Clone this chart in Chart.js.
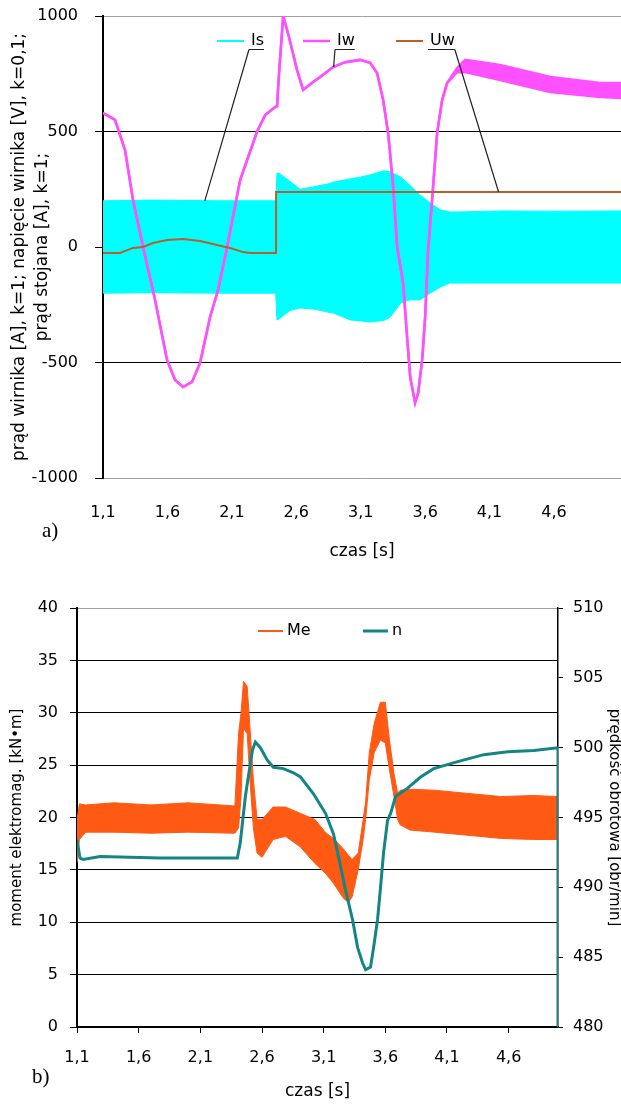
<!DOCTYPE html>
<html>
<head>
<meta charset="utf-8">
<script src="https://cdn.jsdelivr.net/npm/chart.js@4/dist/chart.umd.min.js"></script>
<style>
  html, body { margin:0; padding:0; background:#fff; width:621px; height:1104px; overflow:hidden; }
  canvas { position:absolute; left:0; }
  #c1 { top:0; }
  #c2 { top:560px; }
  .tag { position:absolute; font:21px "Liberation Serif", serif; color:#000; line-height:24px; }
</style>
</head>
<body>
<canvas id="c1" width="621" height="565"></canvas>
<canvas id="c2" width="621" height="544"></canvas>
<div class="tag" style="left:42px;top:518px">a)</div>
<div class="tag" style="left:32px;top:1064px">b)</div>
<script>
'use strict';
Chart.defaults.font.family = '"DejaVu Sans", sans-serif';
Chart.defaults.font.size = 16;
Chart.defaults.color = '#000';

/* ── axis ticks ────────────────────────────── */
const timeTicks    = [1.1, 1.6, 2.1, 2.6, 3.1, 3.6, 4.1, 4.6];
const timeLabels   = ['1,1','1,6','2,1','2,6','3,1','3,6','4,1','4,6'];
const currentTicks = [-1000, -500, 0, 500, 1000];
const torqueTicks  = [0, 5, 10, 15, 20, 25, 30, 35, 40];
const speedTicks   = [480, 485, 490, 495, 500, 505, 510];

/* ── a) Is envelope (stator current) ───────── */
const tIs  = [1.10, 1.50, 2.00, 2.44, 2.45, 2.47, 2.55, 2.63, 2.75, 2.86, 2.89, 3.02, 3.10, 3.17, 3.28, 3.33, 3.41, 3.48, 3.56, 3.64, 3.72, 3.79, 3.87, 4.20, 4.60, 5.12];
const isHi = [200, 203, 200, 200, 320, 318, 285, 250, 262, 275, 281, 295, 303, 312, 330, 325, 303, 268, 225, 190, 160, 152, 152, 156, 155, 156];
const isLo = [-200, -198, -200, -200, -316, -310, -275, -264, -270, -284, -286, -316, -320, -325, -318, -303, -242, -229, -229, -199, -173, -156, -156, -156, -156, -156];

/* ── a) Iw (rotor current) ─────────────────── */
const tIw  = [1.100, 1.154, 1.193, 1.271, 1.333, 1.411, 1.504, 1.597, 1.659, 1.721,
              1.791, 1.853, 1.931, 1.993, 2.063, 2.164, 2.296, 2.358, 2.435, 2.451,
              2.466, 2.498, 2.536, 2.606, 2.653, 2.730, 2.785, 2.886, 2.979, 3.095,
              3.173, 3.227, 3.274, 3.313, 3.352, 3.383, 3.429, 3.460, 3.484, 3.522,
              3.546, 3.577, 3.600, 3.623, 3.654, 3.693, 3.732, 3.771, 3.848, 3.911,
              4.182, 4.571, 4.959, 5.122];
const iwHi = [580, 563, 550, 420, 203, 0, -229, -489, -576, -606,
              -584, -502, -303, -186, 0, 290, 500, 571, 606, 610,
              750, 1000, 925, 766, 680, 714, 736, 779, 800, 810,
              797, 753, 636, 493, 260, 0, -156, -390, -563, -675,
              -632, -489, -303, -13, 203, 493, 636, 710, 775, 810,
              788, 736, 710, 710];
const iwLo = [580, 563, 550, 420, 203, 0, -229, -489, -576, -606,
              -584, -502, -303, -186, 0, 290, 500, 571, 606, 610,
              750, 1000, 925, 766, 680, 714, 736, 779, 800, 810,
              797, 753, 636, 493, 260, 0, -156, -390, -563, -675,
              -632, -489, -303, -13, 203, 493, 636, 710, 757, 757,
              723, 671, 649, 645];

/* ── a) Uw (rotor voltage, k=0,1) ──────────── */
const tUw = [1.100, 1.232, 1.333, 1.411, 1.488, 1.597, 1.721, 1.853, 1.985, 2.086, 2.187, 2.241, 2.443, 2.443, 5.122];
const uw  = [-26, -26, -4, 0, 17, 30, 35, 26, 9, -4, -22, -26, -26, 238, 238];

// where the legend leader lines point (time, value)
const noteIs = [1.89, 200], noteIw = [2.89, 779], noteUw = [4.17, 238];

/* ── b) Me envelope (torque) ───────────────── */
const tMe  = [1.10, 1.12, 1.17, 1.40, 1.70, 2.00, 2.38, 2.41, 2.43, 2.45, 2.48, 2.50, 2.53, 2.56, 2.60, 2.69, 2.79, 2.91, 3.03, 3.12,
              3.18, 3.26, 3.30, 3.33, 3.38, 3.42, 3.44, 3.47, 3.51, 3.56, 3.60, 3.63, 3.67, 3.70, 3.72, 3.80, 4.00, 4.27, 4.54, 4.80, 5.00];
const meHi = [19.8, 21.3, 21.2, 21.4, 21.2, 21.4, 21.1, 28.0, 30.0, 33.0, 32.5, 29.0, 23.6, 19.8, 19.8, 21.0, 21.0, 20.4, 19.8, 18.5,
              18.0, 17.0, 16.4, 16.0, 16.6, 19.8, 21.5, 26.2, 29.0, 31.0, 31.0, 27.7, 24.2, 22.3, 22.6, 22.7, 22.6, 22.3, 22.0, 22.1, 22.0];
const meLo = [15.7, 17.9, 18.6, 18.6, 18.5, 18.6, 18.5, 19.0, 22.0, 28.5, 28.0, 24.0, 19.0, 16.6, 16.2, 17.9, 18.2, 17.2, 15.6, 14.6,
              13.7, 12.3, 11.9, 12.4, 15.0, 17.9, 19.8, 23.6, 26.2, 27.4, 27.1, 24.8, 22.0, 19.8, 19.3, 18.8, 18.6, 18.3, 18.0, 17.9, 17.9];

/* ── b) n (speed) ──────────────────────────── */
const tN    = [1.100, 1.124, 1.149, 1.287, 1.774, 2.400, 2.424, 2.440, 2.465, 2.489, 2.522, 2.546, 2.587, 2.643, 2.692,
               2.773, 2.855, 2.912, 3.017, 3.115, 3.180, 3.220, 3.277, 3.334, 3.375, 3.415, 3.440, 3.480, 3.505, 3.537,
               3.561, 3.586, 3.618, 3.643, 3.683, 3.781, 3.886, 3.992, 4.187, 4.398, 4.593, 4.804, 5.000, 5.000];
const speed = [493.4, 492.1, 492.0, 492.2, 492.1, 492.1, 493.2, 494.5, 496.5, 497.9, 499.8, 500.4, 500.0, 499.1, 498.6,
               498.5, 498.2, 497.9, 496.7, 495.3, 493.8, 492.2, 489.8, 487.7, 485.7, 484.6, 484.1, 484.3, 485.7, 487.7,
               490.0, 492.5, 494.8, 495.3, 496.5, 497.1, 497.9, 498.5, 499.0, 499.5, 499.7, 499.8, 500.0, 480.0];

/* ── helpers ───────────────────────────────── */
const pts = (xs, ys) => xs.map((x, i) => ({ x, y: ys[i] }));
const fixTicks = list => s => { s.ticks = list.map(v => ({ value: v })); };
const plain = v => String(v);
// pin the axis box width and drop the label overhang padding
const pinWidth = w => s => { s.width = w; s.paddingTop = 0; s.paddingBottom = 0; };

// legend drawn inside the plot, with optional leader lines
const keyPlugin = {
  id: 'key',
  afterDatasetsDraw(chart, args, o) {
    if (!o || !o.items) return;
    const ctx = chart.ctx;
    ctx.save();
    ctx.font = '16px "DejaVu Sans"';
    ctx.textBaseline = 'middle';
    o.items.forEach(it => {
      const ds = chart.data.datasets[it.ds];
      ctx.strokeStyle = ds.borderColor; ctx.lineWidth = it.lw;
      ctx.beginPath(); ctx.moveTo(it.x, o.y); ctx.lineTo(it.x + o.len, o.y); ctx.stroke();
      const tx = it.x + o.len + o.gap;
      ctx.fillStyle = '#000';
      ctx.fillText(ds.label, tx, o.y);
      if (it.note) {
        const w = ctx.measureText(ds.label).width;
        const ly = o.y + 8.5;
        const sx = it.from === 'right' ? tx + w : tx - 2;
        const px = chart.scales.x.getPixelForValue(it.note[0]);
        const py = chart.scales.y.getPixelForValue(it.note[1]);
        ctx.strokeStyle = '#222'; ctx.lineWidth = 1.2;
        ctx.beginPath();
        ctx.moveTo(tx - 2, ly); ctx.lineTo(tx + w, ly);
        ctx.moveTo(sx, ly); ctx.lineTo(px, py);
        ctx.stroke();
      }
    });
    ctx.restore();
  }
};

const base = {
  responsive: false, animation: false, events: [],
  elements: { point: { radius: 0 }, line: { tension: 0 } },
};

/* ── CHART a) ──────────────────────────────── */
new Chart(document.getElementById('c1'), {
  type: 'line',
  data: { datasets: [
    { label: 'Uw', data: pts(tUw, uw),   borderColor: '#b8602a', borderWidth: 2 },
    { label: 'Iw', data: pts(tIw, iwHi), borderColor: '#ff50ff', backgroundColor: '#ff50ff', borderWidth: 2.5, fill: '+1' },
    { label: '',   data: pts(tIw, iwLo), borderColor: '#ff50ff', borderWidth: 2.5 },
    { label: 'Is', data: pts(tIs, isHi), borderColor: '#00ffff', backgroundColor: '#00ffff', borderWidth: 1, fill: '+1' },
    { label: '',   data: pts(tIs, isLo), borderColor: '#00ffff', borderWidth: 1 },
  ]},
  options: {
    ...base,
    layout: { padding: { top: 16, left: 0, right: 0, bottom: 0 } },
    plugins: {
      legend: { display: false }, tooltip: { enabled: false },
      key: { y: 41, len: 27, gap: 7, items: [
        { ds: 3, x: 217, lw: 2,   note: noteIs, from: 'left' },
        { ds: 1, x: 303, lw: 2.5, note: noteIw, from: 'left' },
        { ds: 0, x: 396, lw: 2,   note: noteUw, from: 'right' },
      ]},
    },
    scales: {
      x: {
        type: 'linear', min: 1.1, max: 5.12,
        afterBuildTicks: fixTicks(timeTicks),
        afterFit: s => { s.height = 87; },
        grid: { display: false, drawTicks: false },
        border: { color: '#a0a0a0', width: 1 },
        ticks: { padding: 25, maxRotation: 0, autoSkip: false, callback: (v, i) => timeLabels[i] },
        title: { display: true, text: 'czas [s]', font: { size: 17 }, padding: { top: 0, bottom: 3 } },
      },
      y: {
        min: -1000, max: 1000,
        afterBuildTicks: fixTicks(currentTicks),
        afterFit: pinWidth(103),
        grid: { color: c => (c.tick && Math.abs(c.tick.value) === 1000) ? '#a0a0a0' : '#000', tickColor: '#000', tickLength: 8 },
        border: { color: '#000', width: 2 },
        ticks: { padding: 17, callback: plain },
        title: { display: true,
          text: ['prąd wirnika [A], k=1; napięcie wirnika [V], k=0,1;', 'prąd stojana [A], k=1;'],
          font: { size: 17, lineHeight: '23px' }, padding: { top: 8, bottom: 0 } },
      },
    },
  },
  plugins: [keyPlugin],
});

/* ── CHART b) ──────────────────────────────── */
new Chart(document.getElementById('c2'), {
  type: 'line',
  data: { datasets: [
    { label: 'n',  yAxisID: 'y2', data: pts(tN, speed), borderColor: '#138585', borderWidth: 3 },
    { label: 'Me', yAxisID: 'y',  data: pts(tMe, meHi), borderColor: '#ff5a14', backgroundColor: '#ff5a14', borderWidth: 1, fill: '+1' },
    { label: '',   yAxisID: 'y',  data: pts(tMe, meLo), borderColor: '#ff5a14', borderWidth: 1 },
  ]},
  options: {
    ...base,
    layout: { padding: { top: 48, left: 0, right: 0, bottom: 0 } },
    plugins: {
      legend: { display: false }, tooltip: { enabled: false },
      key: { y: 71, len: 25, gap: 4, items: [
        { ds: 1, x: 258, lw: 2 },
        { ds: 0, x: 363, lw: 3 },
      ]},
    },
    scales: {
      x: {
        type: 'linear', min: 1.1, max: 5.0,
        afterBuildTicks: fixTicks(timeTicks),
        afterFit: s => { s.height = 77; },
        grid: { drawOnChartArea: false, color: '#000', tickLength: 6 },
        border: { color: '#000', width: 1.5 },
        ticks: { padding: 15, maxRotation: 0, autoSkip: false, callback: (v, i) => timeLabels[i] },
        title: { display: true, text: 'czas [s]', font: { size: 17 }, padding: { top: 0, bottom: 2 } },
      },
      y: {
        position: 'left', min: 0, max: 40,
        afterBuildTicks: fixTicks(torqueTicks),
        afterFit: pinWidth(77),
        grid: { color: c => (c.tick && c.tick.value === 40) ? '#a0a0a0' : '#000', tickColor: '#000', tickLength: 7 },
        border: { color: '#000', width: 2 },
        ticks: { padding: 12, callback: plain },
        title: { display: true, text: 'moment elektromag. [kN•m]', font: { size: 15, lineHeight: '18px' }, padding: { top: 8, bottom: 0 } },
      },
      y2: {
        position: 'right', min: 480, max: 510,
        afterBuildTicks: fixTicks(speedTicks),
        afterFit: pinWidth(63),
        grid: { drawOnChartArea: false, color: '#000', tickLength: 5 },
        border: { color: '#000', width: 1.5 },
        ticks: { padding: 10, callback: plain },
        title: { display: true, text: 'prędkość obrotowa [obr/min]', font: { size: 15, lineHeight: '15px' }, padding: { top: 0, bottom: 0 } },
      },
    },
  },
  plugins: [keyPlugin],
});
</script>
</body>
</html>
